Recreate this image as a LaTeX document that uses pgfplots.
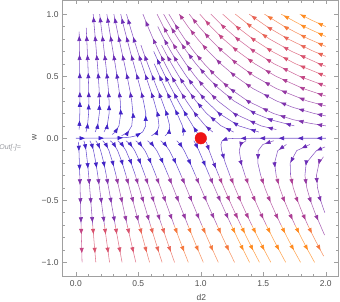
\documentclass[border=0pt]{standalone}
\usepackage{fontspec}
\setmainfont{Liberation Sans}
\usepackage{pgfplots}
\pgfplotsset{compat=1.18}
\usetikzlibrary{arrows.meta,decorations.markings}
\definecolor{c0}{RGB}{58,32,204}
\definecolor{c1}{RGB}{66,36,198}
\definecolor{c2}{RGB}{86,40,190}
\definecolor{c3}{RGB}{106,44,182}
\definecolor{c4}{RGB}{126,50,172}
\definecolor{c5}{RGB}{148,56,162}
\definecolor{c6}{RGB}{172,62,148}
\definecolor{c7}{RGB}{196,70,132}
\definecolor{c8}{RGB}{216,82,110}
\definecolor{c9}{RGB}{232,100,86}
\definecolor{c10}{RGB}{245,120,60}
\definecolor{c11}{RGB}{255,140,34}
\definecolor{framegray}{RGB}{160,160,160}
\definecolor{labelgray}{RGB}{80,80,80}
\definecolor{outgray}{RGB}{150,152,158}
\definecolor{dotred}{RGB}{238,20,20}
\pgfplotsset{sl/.style={draw=#1!78!white, line width=0.55bp, line join=round, postaction={decorate},
  decoration={markings, mark=between positions 9bp and 1 step 19bp with {\arrow{Triangle[length=5.2bp,width=4bp,color=#1]}}}}}
\newcommand\Ln[2]{\addplot[sl=#1] coordinates {#2};}
\begin{document}
\begin{tikzpicture}
\useasboundingbox (-62.7bp,-26bp) rectangle (277.3bp,276bp);
\begin{axis}[
 at={(0,0)}, anchor=south west, scale only axis,
 width=275.6bp, height=275.5bp,
 xmin=-0.105, xmax=2.1, ymin=-1.11, ymax=1.11,
 axis line style={draw=framegray, line width=0.5bp},
 tick style={draw=framegray, line width=0.5bp},
 tick align=inside,
 major tick length=4bp, minor tick length=2.2bp,
 xtick={0,0.5,1,1.5,2}, xticklabels={0.0,0.5,1.0,1.5,2.0},
 ytick={-1,-0.5,0,0.5,1}, yticklabels={−1.0,−0.5,0.0,0.5,1.0},
 minor tick num=4,
 ticklabel style={font=\fontsize{8.5bp}{10bp}\selectfont, text=labelgray},
 xticklabel style={anchor=north, inner sep=0pt, yshift=-4bp},
 yticklabel style={anchor=east, inner sep=0pt, xshift=-4bp},
 clip=true,
]
% ---------- upper half, lines from near the axis ----------
\Ln{c1}{(0.0262,0.07)(0.0285,0.1)(0.0317,0.2)(0.0325,0.3)}
\Ln{c2}{(0.0325,0.3)(0.0323,0.4)(0.0315,0.5)(0.0305,0.6)}
\Ln{c3}{(0.0305,0.6)(0.0292,0.7)(0.0278,0.8)(0.0269,0.86)}
\Ln{c1}{(0.0815,0.05)(0.0933,0.1)(0.1022,0.2)(0.1041,0.3)}
\Ln{c2}{(0.1041,0.3)(0.1028,0.4)(0.1,0.5)(0.0963,0.6)}
\Ln{c3}{(0.0963,0.6)(0.092,0.7)(0.0875,0.8)(0.0834,0.89)}
\Ln{c1}{(0.1546,0.05)(0.1744,0.1)(0.188,0.2)(0.1896,0.3)}
\Ln{c2}{(0.1896,0.3)(0.1861,0.4)(0.18,0.5)(0.1726,0.6)}
\Ln{c3}{(0.1726,0.6)(0.1644,0.7)(0.156,0.8)(0.1474,0.9)(0.139,1.0)}
\Ln{c1}{(0.2256,0.05)(0.2508,0.1)(0.2663,0.2)(0.2661,0.3)}
\Ln{c2}{(0.2661,0.3)(0.2596,0.4)(0.25,0.5)(0.2389,0.6)}
\Ln{c3}{(0.2389,0.6)(0.2269,0.7)(0.2148,0.8)(0.2027,0.9)(0.1908,1.0)}
\Ln{c1}{(0.2906,0.03)(0.3158,0.05)(0.3449,0.1)(0.3596,0.2)(0.3555,0.3)}
\Ln{c2}{(0.3555,0.3)(0.3444,0.4)(0.33,0.5)(0.314,0.6)}
\Ln{c3}{(0.314,0.6)(0.2974,0.7)(0.2808,0.8)(0.2644,0.9)(0.2484,1.0)}
\Ln{c1}{(0.3665,0.02)(0.4178,0.05)(0.4473,0.1)(0.4572,0.2)(0.4472,0.3)}
\Ln{c2}{(0.4472,0.3)(0.4301,0.4)(0.41,0.5)(0.3886,0.6)}
\Ln{c3}{(0.3886,0.6)(0.3669,0.7)(0.3455,0.8)(0.3246,0.9)(0.3045,1.0)}
\Ln{c0}{(0,0)(0.2927,0.001)(0.3338,0.002)(0.3927,0.005)(0.4381,0.01)(0.4826,0.02)(0.5339,0.05)(0.559,0.1)(0.5596,0.2)(0.5412,0.3)}
\Ln{c2}{(0.5412,0.3)(0.5168,0.4)(0.49,0.5)(0.4626,0.6)}
\Ln{c3}{(0.4626,0.6)(0.4354,0.7)(0.409,0.8)(0.3835,0.9)(0.3592,1.0)}
\Ln{c1}{(0.6055,0.02)(0.6496,0.05)(0.6655,0.1)(0.6533,0.2)(0.6255,0.3)}
\Ln{c2}{(0.6255,0.3)(0.5933,0.4)(0.56,0.5)(0.5269,0.6)}
\Ln{c3}{(0.5269,0.6)(0.4946,0.7)(0.4636,0.8)(0.4339,0.9)(0.4058,1.0)}
\Ln{c1}{(0.7144,0.02)(0.7463,0.05)(0.7511,0.1)(0.726,0.2)(0.6897,0.3)}
\Ln{c2}{(0.6897,0.3)(0.651,0.4)(0.6124,0.5)(0.5747,0.6)}
\Ln{c3}{(0.5747,0.6)(0.5384,0.7)(0.521,0.75)}
\Ln{c1}{(0.8576,0.02)(0.8661,0.05)(0.853,0.1)(0.8098,0.2)(0.7625,0.3)}
\Ln{c2}{(0.7625,0.3)(0.7157,0.4)(0.6706,0.5)(0.6276,0.6)}
\Ln{c1}{(0.98,0.03)(0.9675,0.05)(0.936,0.1)(0.8757,0.2)(0.8189,0.3)}
\Ln{c2}{(0.8189,0.3)(0.7653,0.4)(0.715,0.5)(0.6676,0.6)(0.6231,0.7)}
\Ln{c2}{(1.096,0.05)(1.037,0.1)(0.9534,0.2)(0.8843,0.3)}
\Ln{c3}{(0.8843,0.3)(0.8224,0.4)(0.7657,0.5)(0.7132,0.6)}
\Ln{c4}{(0.7132,0.6)(0.6644,0.7)(0.6189,0.8)(0.5765,0.9)(0.537,1.0)}
\Ln{c2}{(1.263,0.05)(1.162,0.1)(1.046,0.2)(0.961,0.3)}
\Ln{c3}{(0.961,0.3)(0.8886,0.4)(0.8241,0.5)(0.7655,0.6)}
\Ln{c4}{(0.7655,0.6)(0.7115,0.7)(0.6866,0.75)}
\Ln{c2}{(1.4648,0.05)(1.3036,0.1)(1.1467,0.2)(1.0424,0.3)}
\Ln{c3}{(1.0424,0.3)(0.958,0.4)(0.8849,0.5)(0.8195,0.6)}
\Ln{c4}{(0.8195,0.6)(0.76,0.7)(0.7056,0.8)(0.6554,0.9)}
% ---------- upper half, lines entering at the right edge ----------
\Ln{c3}{(1.604,0.07)(1.481,0.1)(1.266,0.2)(1.137,0.3)}
\Ln{c4}{(1.137,0.3)(1.038,0.4)(0.9542,0.5)(0.8807,0.6)(0.8147,0.7)}
\Ln{c5}{(0.8147,0.7)(0.7549,0.8)(0.7001,0.9)(0.65,1.0)}
\Ln{c3}{(1.748,0.1)(1.556,0.15)(1.434,0.2)(1.266,0.3)}
\Ln{c4}{(1.266,0.3)(1.145,0.4)(1.046,0.5)(0.961,0.6)(0.8862,0.7)}
\Ln{c5}{(0.8862,0.7)(0.819,0.8)(0.758,0.9)(0.7025,1.0)}
\Ln{c4}{(2.0,0.1)(1.875,0.12)(1.738,0.15)(1.58,0.2)(1.375,0.3)(1.2335,0.4)}
\Ln{c5}{(1.2335,0.4)(1.121,0.5)(1.027,0.6)(0.9441,0.7)(0.8708,0.8)(0.8046,0.9)(0.7447,1.0)}
\Ln{c4}{(2.0,0.18)(1.9055,0.2)(1.734,0.25)(1.6075,0.3)(1.4176,0.4)}
\Ln{c5}{(1.4176,0.4)(1.275,0.5)(1.1589,0.6)(1.06,0.7)}
\Ln{c6}{(1.06,0.7)(0.9737,0.8)(0.8968,0.9)(0.828,1.0)}
\Ln{c5}{(2.0,0.26)(1.852,0.3)(1.605,0.4)(1.428,0.5)}
\Ln{c6}{(1.428,0.5)(1.289,0.6)(1.173,0.7)(1.073,0.8)(0.9852,0.9)(0.9074,1.0)}
\Ln{c6}{(2.0,0.34)(1.8195,0.4)(1.5997,0.5)(1.4322,0.6)}
\Ln{c7}{(1.4322,0.6)(1.2957,0.7)(1.1802,0.8)(1.08,0.9)(0.992,1.0)}
\Ln{c7}{(2.0,0.42)(1.788,0.5)(1.5866,0.6)(1.4265,0.7)(1.2935,0.8)(1.1795,0.9)(1.08,1.0)}
\Ln{c8}{(2.0,0.5)(1.7575,0.6)(1.5694,0.7)(1.416,0.8)(1.2863,0.9)(1.175,1.0)}
\Ln{c8}{(2.0,0.58)(1.948,0.6)(1.7265,0.7)(1.5494,0.8)}
\Ln{c9}{(1.5494,0.8)(1.4015,0.9)(1.276,1.0)}
\Ln{c9}{(2.0,0.66)(1.903,0.7)(1.6975,0.8)(1.5283,0.9)(1.387,1.0)}
\Ln{c10}{(2.0,0.74)(1.8633,0.8)(1.6692,0.9)(1.509,1.0)}
\Ln{c11}{(2.0,0.82)(1.8255,0.9)(1.643,1.0)}
\Ln{c11}{(2.0,0.9)(1.8896,0.95)(1.791,1.0)}
% ---------- lower half ----------
\Ln{c1}{(0.0205,-0.03)(0.025,-0.1)(0.0287,-0.2)(0.0316,-0.3)}
\Ln{c4}{(0.0316,-0.3)(0.0343,-0.4)(0.0369,-0.5)(0.0394,-0.6)(0.042,-0.7)}
\Ln{c7}{(0.042,-0.7)(0.0446,-0.8)(0.0473,-0.9)(0.05,-1)}
\Ln{c1}{(0.0642,-0.02)(0.0733,-0.05)(0.0819,-0.1)(0.0935,-0.2)(0.1026,-0.3)}
\Ln{c4}{(0.1026,-0.3)(0.111,-0.4)(0.1191,-0.5)(0.127,-0.6)(0.135,-0.7)}
\Ln{c8}{(0.135,-0.7)(0.1432,-0.8)(0.1515,-0.9)(0.16,-1)}
\Ln{c1}{(0.1124,-0.02)(0.1276,-0.05)(0.1418,-0.1)(0.1607,-0.2)(0.1758,-0.3)}
\Ln{c4}{(0.1758,-0.3)(0.1895,-0.4)(0.2028,-0.5)(0.2159,-0.6)(0.229,-0.7)}
\Ln{c8}{(0.229,-0.7)(0.2424,-0.8)(0.256,-0.9)(0.27,-1)}
\Ln{c1}{(0.1596,-0.02)(0.1799,-0.05)(0.1989,-0.1)(0.2241,-0.2)(0.2442,-0.3)}
\Ln{c4}{(0.2442,-0.3)(0.2626,-0.4)(0.2803,-0.5)(0.2978,-0.6)(0.3154,-0.7)}
\Ln{c8}{(0.3154,-0.7)(0.3332,-0.8)(0.3514,-0.9)(0.37,-1)}
\Ln{c1}{(0.2155,-0.02)(0.2412,-0.05)(0.265,-0.1)(0.2965,-0.2)(0.3218,-0.3)}
\Ln{c5}{(0.3218,-0.3)(0.3448,-0.4)(0.3671,-0.5)(0.3891,-0.6)(0.4112,-0.7)}
\Ln{c8}{(0.4112,-0.7)(0.4337,-0.8)(0.4566,-0.9)(0.48,-1)}
\Ln{c1}{(0.2762,-0.02)(0.3066,-0.05)(0.3346,-0.1)(0.3718,-0.2)(0.4017,-0.3)}
\Ln{c5}{(0.4017,-0.3)(0.4291,-0.4)(0.4556,-0.5)(0.4817,-0.6)(0.5081,-0.7)}
\Ln{c9}{(0.5081,-0.7)(0.5348,-0.8)(0.5621,-0.9)(0.59,-1)}
\Ln{c1}{(0.3361,-0.02)(0.37,-0.05)(0.4013,-0.1)(0.443,-0.2)(0.4766,-0.3)}
\Ln{c5}{(0.4766,-0.3)(0.5075,-0.4)(0.5374,-0.5)(0.5671,-0.6)(0.597,-0.7)}
\Ln{c9}{(0.597,-0.7)(0.6273,-0.8)(0.6583,-0.9)(0.69,-1)}
\Ln{c1}{(0.401,-0.02)(0.4377,-0.05)(0.4715,-0.1)(0.5168,-0.2)(0.5537,-0.3)}
\Ln{c5}{(0.5537,-0.3)(0.5877,-0.4)(0.6208,-0.5)(0.6536,-0.6)(0.6868,-0.7)}
\Ln{c9}{(0.6868,-0.7)(0.7204,-0.8)(0.7548,-0.9)(0.79,-1)}
\Ln{c1}{(0.4789,-0.02)(0.5175,-0.05)(0.5531,-0.1)(0.6014,-0.2)(0.6411,-0.3)}
\Ln{c5}{(0.6411,-0.3)(0.6781,-0.4)(0.7142,-0.5)(0.7501,-0.6)(0.7865,-0.7)}
\Ln{c10}{(0.7865,-0.7)(0.8234,-0.8)(0.8612,-0.9)(0.9,-1)}
\Ln{c1}{(0.5731,-0.02)(0.6118,-0.05)(0.6479,-0.1)(0.6979,-0.2)(0.7399,-0.3)}
\Ln{c5}{(0.7399,-0.3)(0.7794,-0.4)(0.8183,-0.5)(0.8571,-0.6)(0.8965,-0.7)}
\Ln{c10}{(0.8965,-0.7)(0.9366,-0.8)(0.9778,-0.9)(1.02,-1)}
\Ln{c1}{(0.6785,-0.02)(0.7146,-0.05)(0.7493,-0.1)(0.7992,-0.2)(0.8424,-0.3)}
\Ln{c5}{(0.8424,-0.3)(0.8836,-0.4)(0.9246,-0.5)(0.9658,-0.6)(1.0079,-0.7)}
\Ln{c10}{(1.0079,-0.7)(1.0506,-0.8)(1.0948,-0.9)(1.14,-1)}
\Ln{c1}{(0.8076,-0.02)(0.8369,-0.05)(0.8673,-0.1)(0.9146,-0.2)(0.9576,-0.3)}
\Ln{c5}{(0.9576,-0.3)(0.9998,-0.4)(1.0423,-0.5)(1.0855,-0.6)(1.1298,-0.7)}
\Ln{c10}{(1.1298,-0.7)(1.1751,-0.8)(1.2219,-0.9)(1.27,-1)}
\Ln{c1}{(0.9437,-0.02)(0.9616,-0.05)(0.9848,-0.1)(1.0269,-0.2)(1.0685,-0.3)}
\Ln{c5}{(1.0685,-0.3)(1.1105,-0.4)(1.1538,-0.5)(1.1982,-0.6)(1.2439,-0.7)}
\Ln{c11}{(1.2439,-0.7)(1.291,-0.8)(1.3398,-0.9)(1.39,-1)}
\Ln{c2}{(1.0436,-0.03)(1.0507,-0.05)(1.067,-0.1)(1.1041,-0.2)(1.1438,-0.3)}
\Ln{c6}{(1.1438,-0.3)(1.1851,-0.4)(1.2284,-0.5)(1.2732,-0.6)(1.3196,-0.7)}
\Ln{c11}{(1.3196,-0.7)(1.3678,-0.8)(1.4175,-0.9)(1.469,-1)}
\Ln{c2}{(2.0,0)(1.418,-0.0001)(1.271,-0.001)(1.207,-0.005)(1.171,-0.02)(1.161,-0.05)(1.167,-0.1)(1.1963,-0.2)(1.2329,-0.3)}
\Ln{c6}{(1.2329,-0.3)(1.273,-0.4)(1.3158,-0.5)(1.3607,-0.6)(1.4077,-0.7)}
\Ln{c11}{(1.4077,-0.7)(1.4566,-0.8)(1.5074,-0.9)(1.56,-1)}
\Ln{c3}{(1.3615,-0.02)(1.3198,-0.05)(1.3075,-0.1)(1.323,-0.2)(1.3539,-0.3)}
\Ln{c6}{(1.3539,-0.3)(1.3912,-0.4)(1.4326,-0.5)(1.4771,-0.6)(1.5241,-0.7)}
\Ln{c11}{(1.5241,-0.7)(1.5736,-0.8)(1.6254,-0.9)(1.6792,-1)}
\Ln{c3}{(1.584,-0.02)(1.4966,-0.05)(1.4592,-0.1)(1.4563,-0.2)(1.4793,-0.3)}
\Ln{c6}{(1.4793,-0.3)(1.5124,-0.4)(1.5516,-0.5)(1.5949,-0.6)(1.6417,-0.7)}
\Ln{c11}{(1.6417,-0.7)(1.6912,-0.8)(1.7433,-0.9)(1.798,-1)}
\Ln{c3}{(1.685,-0.05)(1.6155,-0.1)(1.5896,-0.2)(1.603,-0.3)}
\Ln{c6}{(1.603,-0.3)(1.631,-0.4)(1.667,-0.5)(1.7085,-0.6)(1.754,-0.7)}
\Ln{c11}{(1.754,-0.7)(1.8036,-0.8)(1.8556,-0.9)(1.9104,-1)}
\Ln{c3}{(1.8734,-0.05)(1.767,-0.1)(1.715,-0.2)(1.718,-0.3)}
\Ln{c6}{(1.718,-0.3)(1.74,-0.4)(1.7727,-0.5)(1.812,-0.6)(1.856,-0.7)}
\Ln{c10}{(1.856,-0.7)(1.9044,-0.8)(1.9563,-0.9)(1.983,-0.95)}
\Ln{c3}{(1.994,-0.07)(1.925,-0.1)(1.843,-0.2)(1.833,-0.3)}
\Ln{c5}{(1.833,-0.3)(1.848,-0.4)(1.8764,-0.5)(1.913,-0.6)(1.9557,-0.7)(1.99,-0.78)}
\Ln{c4}{(1.981,-0.15)(1.946,-0.2)(1.925,-0.3)(1.934,-0.4)(1.958,-0.5)(1.992,-0.6)}
% ---------- equilibrium point ----------
\addplot[only marks, mark=*, mark size=5.8bp, color=dotred] coordinates {(1,0)};
\end{axis}
\node[font=\fontsize{8.5bp}{10bp}\selectfont, text=labelgray] at (138.6bp,-21bp) {d2};
\node[font=\fontsize{8.5bp}{10bp}\selectfont, text=labelgray, rotate=90] at (-28.2bp,138.5bp) {w};
\node[font=\fontsize{7bp}{8bp}\selectfont\itshape, text=outgray, anchor=west, inner sep=0pt] at (-63.5bp,128bp) {Out[-]=};
\end{tikzpicture}
\end{document}
